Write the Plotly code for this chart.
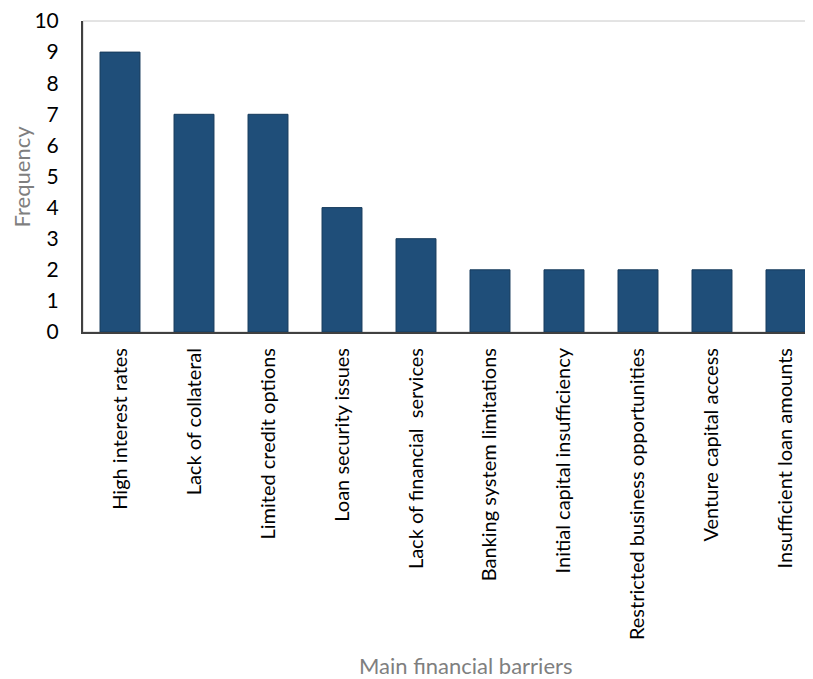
import plotly.graph_objects as go

categories = ["High interest rates", "Lack of collateral", "Limited credit options",
              "Loan security issues", "Lack of financial  services", "Banking system limitations",
              "Initial capital insufficiency", "Restricted business opportunities",
              "Venture capital access", "Insufficient loan amounts"]
frequency = [9, 7, 7, 4, 3, 2, 2, 2, 2, 2]
y_ticks = list(range(0, 11))

FONT = "Lato"
fig = go.Figure(go.Bar(
    x=categories, y=frequency,
    marker=dict(color="#1F4E79", line=dict(color="#173b5c", width=1)),
    width=0.54,
))

fig.update_layout(
    width=805, height=671,
    margin=dict(l=75, r=0, t=13, b=347, autoexpand=False),
    plot_bgcolor="white", paper_bgcolor="white",
    showlegend=False,
    font=dict(family=FONT, color="#000000"),
    shapes=[dict(type="rect", xref="paper", yref="paper", x0=0, x1=1.02, y0=0, y1=1,
                 line=dict(color="#c8c8c8", width=1), layer="below")],
    annotations=[
        dict(text="Frequency", xref="paper", yref="paper", x=-0.0836, y=0.5,
             xanchor="center", yanchor="middle", textangle=-90, showarrow=False,
             font=dict(family=FONT, size=22, color="#7f7f7f")),
        dict(text="Main financial barriers", xref="paper", yref="paper", x=0.524, y=-1.071,
             xanchor="center", yanchor="middle", showarrow=False,
             font=dict(family=FONT, size=22, color="#7f7f7f")),
    ],
)
fig.update_xaxes(
    type="category", range=[-0.5, 9.365], automargin=False,
    showline=True, linecolor="#404040", linewidth=2,
    tickangle=-90, tickfont=dict(family=FONT, size=20, color="#000000"),
    ticks="", ticklabelstandoff=6, showgrid=False, ticklabeloverflow="allow",
)
fig.update_yaxes(
    range=[0, 10], tickvals=y_ticks, automargin=False,
    showline=True, linecolor="#404040", linewidth=2,
    tickfont=dict(family=FONT, size=21, color="#000000"),
    ticks="", ticklabelstandoff=18, showgrid=False, zeroline=False,
    ticklabeloverflow="allow",
)

fig.write_html("out.html")
